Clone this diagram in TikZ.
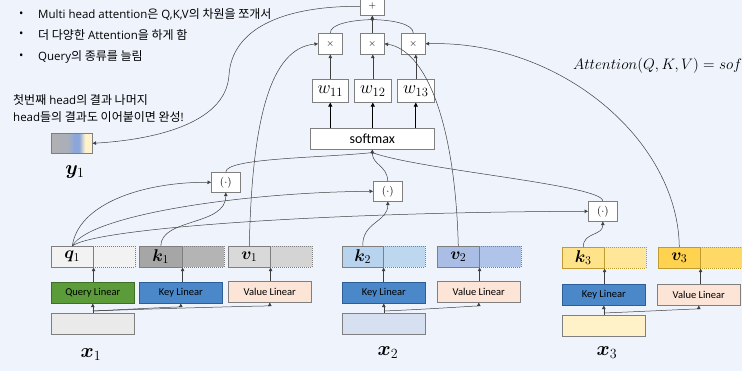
\RequirePackage{fix-cm}
\documentclass[tikz,border=0pt]{standalone}
\usepackage{amsmath}
\usepackage{bm}
\usepackage[no-math]{fontspec}
\setmainfont{Carlito}
\newfontfamily\kr{Noto Sans CJK KR}
\newfontfamily\latf{Open Sans}
\newcommand\K[1]{{\kr\fontsize{12}{14}\selectfont #1}}
\usetikzlibrary{arrows.meta,calc}
\definecolor{bg}{HTML}{EEF3FC}
\definecolor{bd}{HTML}{7F7F7F}
\definecolor{ln}{HTML}{404040}
\definecolor{qc}{HTML}{F2F2F2}
\definecolor{k1a}{HTML}{A6A6A6}
\definecolor{k1b}{HTML}{B4B4B4}
\definecolor{v1a}{HTML}{D9D9D9}
\definecolor{v1b}{HTML}{D4D4D4}
\definecolor{k2a}{HTML}{B8D3EE}
\definecolor{k2b}{HTML}{BDD7EE}
\definecolor{v2a}{HTML}{A9BDE5}
\definecolor{v2b}{HTML}{B0C3E8}
\definecolor{k3a}{HTML}{FFE38A}
\definecolor{k3b}{HTML}{FFE699}
\definecolor{v3a}{HTML}{FFD24F}
\definecolor{v3b}{HTML}{FFD966}
\definecolor{gold}{HTML}{BF9B30}
\definecolor{grn}{HTML}{5B9B3A}
\definecolor{grnd}{HTML}{3F6F27}
\definecolor{blu}{HTML}{4A88CA}
\definecolor{blud}{HTML}{2E5E97}
\definecolor{pch}{HTML}{FCE4D6}
\definecolor{x1c}{HTML}{EAEAEA}
\definecolor{x2c}{HTML}{D7E0F0}
\definecolor{x3c}{HTML}{FFF2C8}
\definecolor{ygray}{HTML}{B0B0B0}
\definecolor{ygray2}{HTML}{A9AFBA}
\definecolor{yblue}{HTML}{8AA6DA}
\definecolor{ycream}{HTML}{FFF2CC}
\pgfdeclarehorizontalshading{yshade}{100bp}{color(0bp)=(ygray); color(25bp)=(ygray); color(46bp)=(ygray2); color(53bp)=(yblue); color(59bp)=(yblue); color(66bp)=(ycream); color(75bp)=(ycream); color(100bp)=(ycream)}
\tikzset{
  box/.style={draw=bd, line width=0.6pt, inner sep=0pt, anchor=north west},
  half/.style={box, minimum width=42pt, minimum height=21pt, font=\fontsize{17}{18}\selectfont},
  dhalf/.style={half, dash pattern=on 1pt off 1pt},
  lin/.style={box, minimum width=83pt, minimum height=21pt, font=\fontsize{10.5}{12}\selectfont},
  inp/.style={box, minimum width=83pt, minimum height=21pt},
  op/.style={box, fill=white, minimum width=29pt, minimum height=20pt, font=\fontsize{11}{12}\selectfont},
  mul/.style={op, minimum width=24pt, minimum height=21pt, font=\fontsize{10}{12}\selectfont},
  wbox/.style={box, fill=white, minimum height=23pt, font=\fontsize{18}{19}\selectfont},
  conn/.style={draw=ln, line width=0.5pt},
  arr/.style={conn, -{Triangle[length=3.5pt,width=3.5pt]}},
  thk/.style={draw=black, line width=1.3pt, -{Triangle[length=4pt,width=4pt]}},
  big/.style={font=\fontsize{20}{22}\selectfont},
  krt/.style={anchor=west, inner sep=0pt, font=\latf\fontsize{11.5}{14}\selectfont},
}
\begin{document}
\begin{tikzpicture}[x=1pt,y=-1pt]
\useasboundingbox[fill=bg] (0,0) rectangle (742,371);

% bullet text
\node[krt] (bu1) at (19,15) {•};
\node[krt] (bt1) at (38,15) {Multi head attention\K{은} Q,K,V\K{의 차원을 쪼개서}};
\node[krt] (bu2) at (19,35) {•};
\node[krt] (bt2) at (38,35) {\K{더 다양한} Attention\K{을 하게 함}};
\node[krt] (bu3) at (19,57) {•};
\node[krt] (bt3) at (38,57) {Query\K{의 종류를 늘림}};
\node[krt] (nt1) at (13,100) {\K{첫번째} head\K{의 결과 나머지}};
\node[krt] (nt2) at (13,117) {head\K{들의 결과도 이어붙이면 완성}!};

\node[anchor=west, inner sep=0pt, font=\fontsize{15.2}{17}\selectfont] (form) at (573,66) {$Attention(Q,K,V) = sof$};

% y1
\node[box, shade, shading=yshade, minimum width=41pt, minimum height=20pt] (y1) at (51,133) {};
\node[big] (y1l) at (75,172) {$\bm{y}_1$};

% top operators
\node[mul, minimum height=18pt] (pl) at (360,-3) {$+$};
\node[mul] (m1) at (318,33) {$\times$};
\node[mul] (m2) at (360,33) {$\times$};
\node[mul] (m3) at (401,33) {$\times$};
\node[wbox, minimum width=36pt] (w1) at (312,79) {$w_{11}$};
\node[wbox, minimum width=37pt] (w2) at (354,79) {$w_{12}$};
\node[wbox, minimum width=37pt] (w3) at (397,79) {$w_{13}$};
\node[box, fill=white, minimum width=124pt, minimum height=21pt, font=\fontsize{14}{16}\selectfont] (sm) at (310,128) {softmax};

\node[op] (d1) at (211,172) {$(\cdot)$};
\node[op] (d2) at (373,181) {$(\cdot)$};
\node[op] (d3) at (588,201) {$(\cdot)$};

% group 1
\node[dhalf, fill=qc] (q1r) at (93,246) {};
\node[half, fill=qc] (q1) at (51,246) {$\bm{q}_1$};
\node[dhalf, fill=k1b] (k1r) at (182,246) {};
\node[half, fill=k1a, minimum width=43pt] (k1) at (139,246) {$\bm{k}_1$};
\node[dhalf, fill=v1b] (v1r) at (270,246) {};
\node[half, fill=v1a] (v1) at (228,246) {$\bm{v}_1$};
\node[lin, fill=grn, draw=grnd] (ql1) at (51,282) {Query Linear};
\node[lin, fill=blu, draw=blud] (kl1) at (139,282) {Key Linear};
\node[lin, fill=pch, draw=bd] (vl1) at (228,281) {Value Linear};
\node[inp, fill=x1c] (x1) at (51,313) {};
\node[big] (x1l) at (91,355) {$\bm{x}_1$};

% group 2
\node[dhalf, fill=k2b] (k2r) at (383,246) {};
\node[half, fill=k2a, minimum width=41pt] (k2) at (342,246) {$\bm{k}_2$};
\node[dhalf, fill=v2b] (v2r) at (479,246) {};
\node[half, fill=v2a] (v2) at (437,246) {$\bm{v}_2$};
\node[lin, fill=blu, draw=blud] (kl2) at (342,282) {Key Linear};
\node[lin, fill=pch, draw=bd] (vl2) at (437,281) {Value Linear};
\node[inp, fill=x2c] (x2) at (342,313) {};
\node[big] (x2l) at (388,353) {$\bm{x}_2$};

% group 3
\node[dhalf, fill=k3b, draw=gold] (k3r) at (604,247) {};
\node[half, fill=k3a, draw=gold] (k3) at (562,247) {$\bm{k}_3$};
\node[dhalf, fill=v3b, draw=gold] (v3r) at (700,247) {};
\node[half, fill=v3a, draw=gold] (v3) at (658,247) {$\bm{v}_3$};
\node[lin, fill=blu, draw=blud] (kl3) at (562,284) {Key Linear};
\node[lin, fill=pch, draw=bd] (vl3) at (657,284) {Value Linear};
\node[inp, fill=x3c, draw=bd] (x3) at (562,315) {};
\node[big] (x3l) at (607,353) {$\bm{x}_3$};

% input branches
\foreach \g in {1,2,3}{
  \coordinate (s\g) at ($(x\g.north)+(0,-2)$);
  \draw[arr] (x\g.north) -- (x\g.north |- kl\g.south);
  \draw[arr] (s\g) .. controls +(50,-2) and +(0,3) .. (vl\g.south);
  \draw[arr] (vl\g.north -| v\g.south east) -- (v\g.south east);
  \draw[arr] (kl\g.north -| k\g.south east) -- (k\g.south east);
}
\draw[arr] (s1) .. controls +(40,-2) and +(0,3) .. (kl1.south);
\draw[arr] (ql1.north -| q1.south east) -- (q1.south east);

% query to dot products
\draw[arr] (q1.north) .. controls (78,205) and (140,182) .. (d1.west);
\draw[arr] (q1.north) .. controls (90,214) and (250,192) .. (d2.west);
\draw[arr] (q1.north) .. controls (95,228) and (330,212) .. (d3.west);

% keys to dot products
\draw[arr] (k1.north) .. controls (161,218) and (226,226) .. (d1.south);
\draw[arr] (k2.north) .. controls (362,222) and (388,222) .. (d2.south);
\draw[arr] (k3.north) .. controls (583,232) and (603,236) .. (d3.south);

% dot products to softmax
\coordinate (js) at ($(sm.south)+(0,3)$);
\draw[conn] (d1.north) .. controls (226,158) and (320,158) .. (js);
\draw[conn] (d2.north) .. controls (387,165) and (372,165) .. (js);
\draw[conn] (d3.north) .. controls (603,185) and (420,170) .. (js);
\draw[arr] (js) -- (sm.south);
\fill[ln] (js) circle (1.7pt);

% softmax to weights
\draw[thk] (w1.south |- sm.north) -- (w1.south);
\draw[thk] (w2.south |- sm.north) -- (w2.south);
\draw[thk] (w3.south |- sm.north) -- (w3.south);
\draw[arr] (w1.north) -- (w1.north |- m1.south);
\draw[arr] (w2.north) -- (w2.north |- m2.south);
\draw[arr] (w3.north) -- (w3.north |- m3.south);

% values to multipliers
\draw[arr] (v1.north) .. controls (252,120) and (270,48) .. (m1.west);
\draw[arr] (v2.north) .. controls (455,120) and (425,50) .. (m2.east);
\draw[arr] (v3.north) .. controls (678,140) and (560,40) .. (m3.east);

% multipliers to sum
\coordinate (jp) at ($(pl.south)+(0,4)$);
\draw[conn] (m1.north) .. controls (330,24) and (352,20) .. (jp);
\draw[conn] (m2.north) -- (jp);
\draw[conn] (m3.north) .. controls (413,24) and (393,20) .. (jp);
\draw[arr] (jp) -- (pl.south);
\fill[ln] (jp) circle (1.7pt);

% sum to y1
\draw[arr] (pl.west) .. controls (280,6) and (232,30) .. (229,75) .. controls (226,125) and (150,140) .. (y1.east);
\end{tikzpicture}
\end{document}
